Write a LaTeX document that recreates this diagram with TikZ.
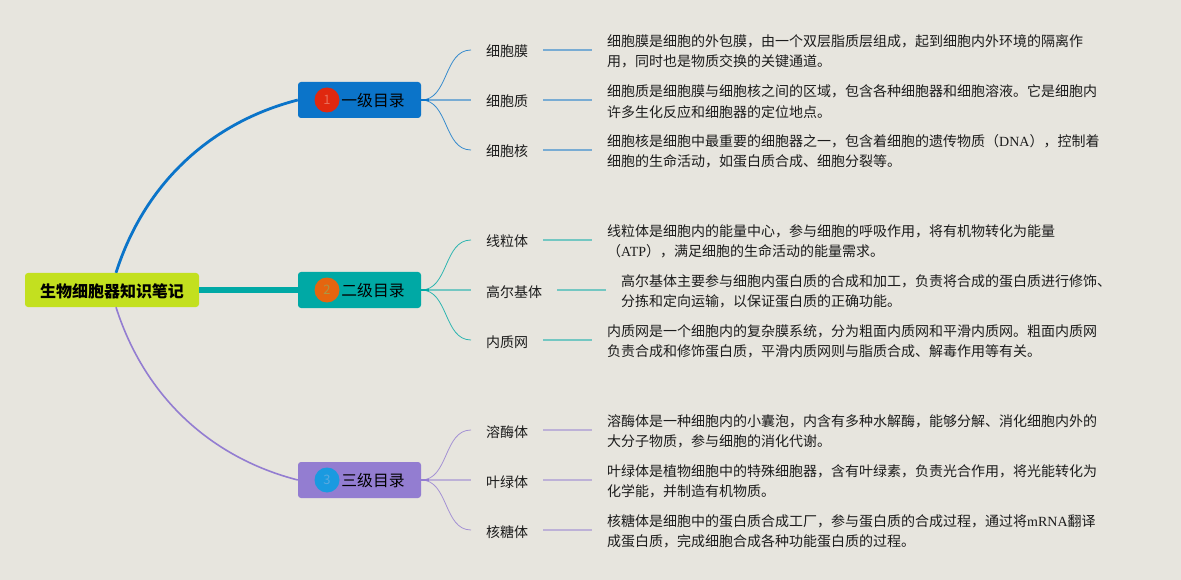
\documentclass[tikz,border=0pt]{standalone}
\usepackage{fontspec}
\setmainfont{Noto Sans CJK SC}
\newfontfamily\latinfont{Liberation Serif}
\definecolor{paper}{HTML}{E7E5DE}
\definecolor{rootcol}{HTML}{C3E01F}
\definecolor{bluecol}{HTML}{0B74C9}
\definecolor{tealcol}{HTML}{00A9A5}
\definecolor{purplecol}{HTML}{937DD1}
\definecolor{inkcol}{HTML}{1C1C1C}
\tikzset{
  rootbox/.style={fill=rootcol,rounded corners=3pt,minimum width=174pt,minimum height=34pt,inner sep=0pt,text height=15pt,text depth=1pt,font=\fontsize{16}{18}\selectfont\bfseries,text=black},
  levelbox/.style={rounded corners=3pt,minimum width=123pt,minimum height=36pt,inner sep=0pt,text height=14.5pt,text depth=1.5pt,font=\fontsize{15.8}{18}\selectfont,text=black},
  badge/.style={circle,minimum size=25pt,inner sep=0pt,font=\fontsize{13}{14}\selectfont},
  leaf/.style={anchor=west,inner xsep=15pt,inner ysep=2pt,text height=15pt,text depth=1pt,font=\fontsize{14}{16}\selectfont,text=inkcol},
  desc/.style={anchor=west,inner xsep=15pt,inner ysep=0pt,align=left,font=\fontsize{14}{20.5}\selectfont,text=inkcol},
  twig/.style={line width=.8pt},
  stem/.style={line width=1.6pt},
}
\begin{document}
\begin{tikzpicture}[x=1pt,y=-1pt]
  \useasboundingbox (0,0) rectangle (1181,580);
  \fill[paper] (0,0) rectangle (1181,580);

  \node[rootbox] (root) at (112,290) {生物细胞器知识笔记};

  \node[levelbox,fill=bluecol] (lone) at (359.5,100) {\hspace*{27pt}一级目录};
  \node[levelbox,fill=tealcol] (ltwo) at (359.5,290) {\hspace*{27pt}二级目录};
  \node[levelbox,fill=purplecol] (lthree) at (359.5,480) {\hspace*{27pt}三级目录};
  \node[badge,fill={rgb,255:red,224;green,40;blue,15},text={rgb,255:red,232;green,110;blue,90}] (bone) at (327,100) {1};
  \node[badge,fill={rgb,255:red,229;green,101;blue,15},text={rgb,255:red,170;green,150;blue,70}] (btwo) at (327,290) {2};
  \node[badge,fill={rgb,255:red,26;green,154;blue,224},text={rgb,255:red,90;green,170;blue,225}] (bthree) at (327,480) {3};

  \draw[bluecol,line width=2.8pt] ([xshift=4pt]root.north) .. controls (145,182) and (212,122) .. (lone.west);
  \draw[tealcol,line width=6pt] (root.east) -- (ltwo.west);
  \draw[purplecol,line width=1.6pt] ([xshift=4pt]root.south) .. controls (145,398) and (212,458) .. (lthree.west);

  % first group
  \node[leaf] (mo) at (471,50) {细胞膜};
  \node[leaf] (zhi) at (471,100) {细胞质};
  \node[leaf] (he) at (471,150) {细胞核};
  \node[desc] (dmo) at (592,51.5) {细胞膜是细胞的外包膜，由一个双层脂质层组成，起到细胞内外环境的隔离作\\用，同时也是物质交换的关键通道。};
  \node[desc] (dzhi) at (592,101.5) {细胞质是细胞膜与细胞核之间的区域，包含各种细胞器和细胞溶液。它是细胞内\\许多生化反应和细胞器的定位地点。};
  \node[desc] (dhe) at (592,151.5) {细胞核是细胞中最重要的细胞器之一，包含着细胞的遗传物质（{\latinfont DNA}），控制着\\细胞的生命活动，如蛋白质合成、细胞分裂等。};

  % second group
  \node[leaf] (xian) at (471,240) {线粒体};
  \node[leaf] (gao) at (471,290) {高尔基体};
  \node[leaf] (nei) at (471,340) {内质网};
  \node[desc] (dxian) at (592,241.5) {线粒体是细胞内的能量中心，参与细胞的呼吸作用，将有机物转化为能量\\（{\latinfont ATP}），满足细胞的生命活动的能量需求。};
  \node[desc] (dgao) at (606,291.5) {高尔基体主要参与细胞内蛋白质的合成和加工，负责将合成的蛋白质进行修饰、\\分拣和定向运输，以保证蛋白质的正确功能。};
  \node[desc] (dnei) at (592,341.5) {内质网是一个细胞内的复杂膜系统，分为粗面内质网和平滑内质网。粗面内质网\\负责合成和修饰蛋白质，平滑内质网则与脂质合成、解毒作用等有关。};

  % third group
  \node[leaf] (rong) at (471,430) {溶酶体};
  \node[leaf] (ye) at (471,480) {叶绿体};
  \node[leaf] (tang) at (471,530) {核糖体};
  \node[desc] (drong) at (592,431.5) {溶酶体是一种细胞内的小囊泡，内含有多种水解酶，能够分解、消化细胞内外的\\大分子物质，参与细胞的消化代谢。};
  \node[desc] (dye) at (592,481.5) {叶绿体是植物细胞中的特殊细胞器，含有叶绿素，负责光合作用，将光能转化为\\化学能，并制造有机物质。};
  \node[desc] (dtang) at (592,531.5) {核糖体是细胞中的蛋白质合成工厂，参与蛋白质的合成过程，通过将{\latinfont mRNA}翻译\\成蛋白质，完成细胞合成各种功能蛋白质的过程。};

  \foreach \lvl/\a/\b/\c/\col in {lone/mo/zhi/he/bluecol,ltwo/xian/gao/nei/tealcol,lthree/rong/ye/tang/purplecol}{
    \draw[\col!80!paper,twig] (\lvl.east) to[out=0,in=180] (\a.west);
    \draw[\col!80!paper,twig] (\lvl.east) to[out=0,in=180] (\c.west);
    \draw[\col!50!paper,stem] (\lvl.east) -- (\b.west);
    \draw[\col,stem] (\lvl.east) -- ++(8,0);
    \draw[\col!50!paper,stem] (\a.east) -- (\a.east -| d\a.west);
    \draw[\col!50!paper,stem] (\b.east) -- (\b.east -| d\b.west);
    \draw[\col!50!paper,stem] (\c.east) -- (\c.east -| d\c.west);
  }
\end{tikzpicture}
\end{document}
